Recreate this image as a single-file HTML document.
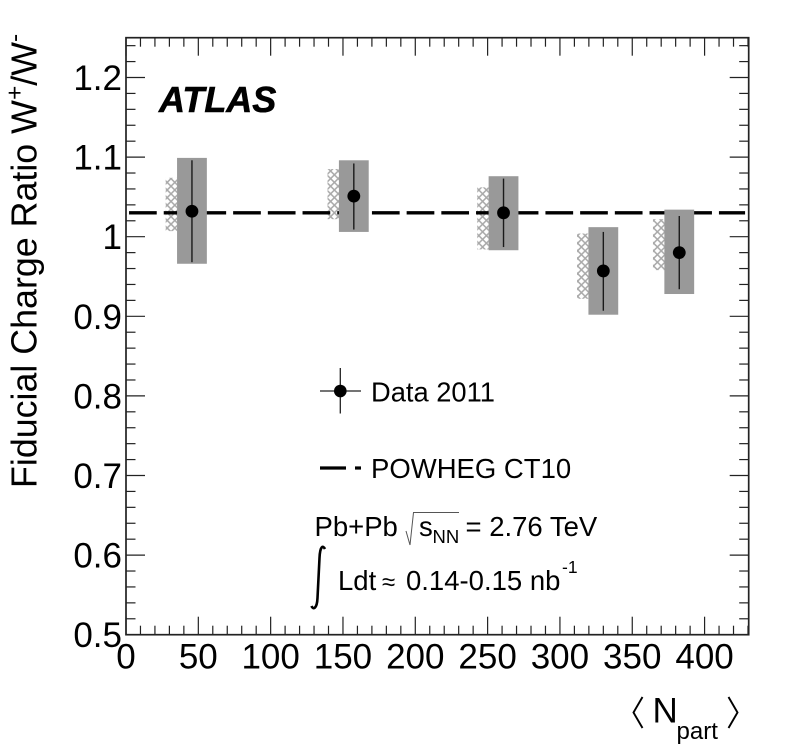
<!DOCTYPE html>
<html>
<head>
<meta charset="utf-8">
<style>
html,body{margin:0;padding:0;background:#fff;}
svg{display:block;}
text{font-family:"Liberation Sans",sans-serif;fill:#000;}
</style>
</head>
<body>
<svg id="chart" xmlns="http://www.w3.org/2000/svg" width="788" height="756" viewBox="0 0 788 756">
  <defs>
    <pattern id="hatch" patternUnits="userSpaceOnUse" width="7.6" height="7.6">
      <path d="M0 0L7.6 7.6M7.6 0L0 7.6" stroke="#a8a8a8" stroke-width="1.5" fill="none"/>
    </pattern>
  </defs>
  <rect x="0" y="0" width="788" height="756" fill="#fff"/>
  <g id="marks"></g>
  <g id="axes"></g>

  <text transform="translate(36.500,488) rotate(-90)" font-size="35.800">Fiducial Charge Ratio W<tspan font-size="24.500" dy="-14">+</tspan><tspan dy="14">/W</tspan><tspan font-size="24.500" dy="-14">-</tspan></text>

  <g>
    <path d="M642.500 697L633.500 712.500L642.500 728" stroke="#000" stroke-width="1.9" fill="none"/>
    <text x="652.500" y="722.500" font-size="35">N</text>
    <text x="676.500" y="739" font-size="24">part</text>
    <path d="M728.500 697L737.500 712.500L728.500 728" stroke="#000" stroke-width="1.9" fill="none"/>
  </g>

  <text x="159" y="112" font-size="36" font-weight="bold" font-style="italic" stroke="#000" stroke-width="0.6">ATLAS</text>

  <g>
    <line x1="320" y1="391" x2="361" y2="391" stroke="#222" stroke-width="1.3"/>
    <line x1="340.300" y1="368" x2="340.300" y2="413.500" stroke="#222" stroke-width="1.3"/>
    <circle cx="340.300" cy="391" r="6.300" fill="#000"/>
    <text x="371" y="401.500" font-size="27.300">Data 2011</text>
  </g>
  <g>
    <line x1="320" y1="468" x2="346" y2="468" stroke="#000" stroke-width="3.2"/>
    <line x1="355" y1="468" x2="361" y2="468" stroke="#000" stroke-width="3.2"/>
    <text x="371" y="478" font-size="27.500">POWHEG CT10</text>
  </g>

  <g>
    <text x="314.500" y="536" font-size="27.500">Pb+Pb</text>
    <path d="M406 531L410 545L413.500 512.500L459 512.500" stroke="#555" stroke-width="1" fill="none"/>
    <text x="419" y="536" font-size="27.500">s</text>
    <text x="432.500" y="543" font-size="18.500">NN</text>
    <text x="465.500" y="536" font-size="27.500">= 2.76 TeV</text>
    <path d="M325 549C323 545 320 546 319.500 558L317.500 598C317 609 313 610 311.500 606" stroke="#000" stroke-width="2.600" fill="none"/>
    <text x="338" y="590" font-size="27.500">Ldt</text>
    <text x="382" y="590" font-size="24">≈</text>
    <text x="406" y="590" font-size="27.500">0.14-0.15 nb</text>
    <text x="562" y="573" font-size="17.500">-1</text>
  </g>
</svg>
<script>
var nPart = [45.6, 157.5, 261, 330, 382.5];
var ratio = [1.032, 1.051, 1.030, 0.957, 0.980];
var statHigh = [1.096, 1.092, 1.073, 1.006, 1.026];
var statLow = [0.968, 1.009, 0.987, 0.907, 0.934];
var sysHigh = [1.099, 1.096, 1.076, 1.012, 1.034];
var sysLow = [0.966, 1.006, 0.983, 0.902, 0.928];
var modelHigh = [1.074, 1.085, 1.062, 1.004, 1.022];
var modelLow = [1.007, 1.022, 0.984, 0.922, 0.958];
var powhegValue = [1.03];
var xTickLabels = ['0', '50', '100', '150', '200', '250', '300', '350', '400'];
var yTickLabels = ['0.5', '0.6', '0.7', '0.8', '0.9', '1', '1.1', '1.2'];

var NS = 'http://www.w3.org/2000/svg';
var L = 126, R = 748.7, T = 37.7, B = 634.7;
var xMin = 0, xMax = 430.5, yMin = 0.5, yMax = 1.25;
function X(v) { return L + (v - xMin) / (xMax - xMin) * (R - L); }
function Y(v) { return B - (v - yMin) / (yMax - yMin) * (B - T); }
function make(parent, tag, props) {
  var el = document.createElementNS(NS, tag);
  for (var k in props) el.setAttribute(k, props[k]);
  parent.appendChild(el);
  return el;
}
var marks = document.getElementById('marks');
var axes = document.getElementById('axes');

nPart.forEach(function (n, i) {
  var hatchBox = make(marks, 'rect', { x: X(n) - 26.3, y: Y(modelHigh[i]), width: 11.5, height: Y(modelLow[i]) - Y(modelHigh[i]), fill: 'url(#hatch)' });
  
  
});

var theoryLine = make(marks, 'line', { x1: X(2.1), x2: X(428), y1: Y(powhegValue[0]), y2: Y(powhegValue[0]), stroke: '#000', 'stroke-width': 3.4, 'stroke-dasharray': '27.7 7' });



nPart.forEach(function (n, i) {
  var cx = X(n);
  var sysBox = make(marks, 'rect', { x: cx - 14.9, y: Y(sysHigh[i]), width: 29.8, height: Y(sysLow[i]) - Y(sysHigh[i]), fill: '#999999' });
  
  
  var errorBar = make(marks, 'line', { x1: cx, x2: cx, y1: Y(statHigh[i]), y2: Y(statLow[i]), stroke: '#1a1a1a', 'stroke-width': 1.4 });
  
  
  var point = make(marks, 'circle', { cx: cx, cy: Y(ratio[i]), r: 6.4, fill: '#000' });
  
  
});

var frame = make(axes, 'rect', { x: L, y: T, width: R - L, height: B - T, fill: 'none', stroke: '#222', 'stroke-width': 1.7 });



function tick(x1, y1, x2, y2) {
  var t = make(axes, 'line', { x1: x1, y1: y1, x2: x2, y2: y2, stroke: '#222', 'stroke-width': 1.2 });
  
  
}
for (var xv = 0; xv <= 430; xv += 10) {
  var xLen = xv % 50 === 0 ? 18 : 9;
  tick(X(xv), B, X(xv), B - xLen);
  tick(X(xv), T, X(xv), T + xLen);
}
for (var j = 0; j <= 37; j++) {
  var yv = 0.5 + j * 0.02;
  var yLen = j % 5 === 0 ? 19 : 9.5;
  tick(L, Y(yv), L + yLen, Y(yv));
  tick(R, Y(yv), R - yLen, Y(yv));
}
xTickLabels.forEach(function (s) {
  var t = make(axes, 'text', { x: X(+s), y: 668.5, 'font-size': 35, 'text-anchor': 'middle' });
  t.textContent = s;
  
  
});
yTickLabels.forEach(function (s) {
  var t = make(axes, 'text', { x: 122, y: Y(+s) + 12.5, 'font-size': 35, 'text-anchor': 'end' });
  t.textContent = s;
  
  
});
</script>
</body>
</html>
